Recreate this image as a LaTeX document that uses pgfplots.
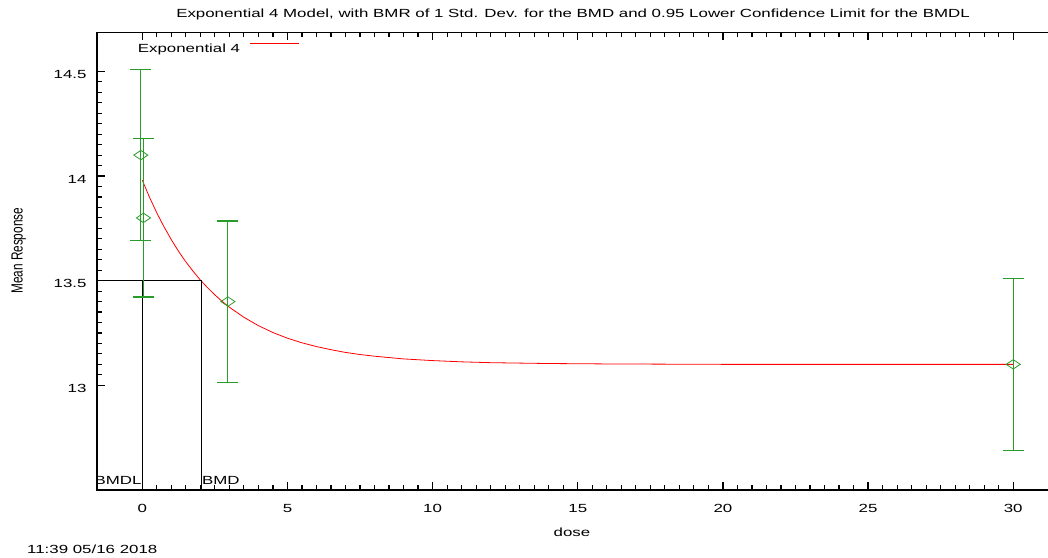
\documentclass[border=0pt]{standalone}
\usepackage{fontspec}
\setmainfont{Liberation Sans}[FakeStretch=1.43]
\newfontfamily\plainsans{Liberation Sans}
\usepackage{graphicx}
\usepackage{pgfplots}
\pgfplotsset{compat=1.18}
\definecolor{bgreen}{RGB}{40,155,40}
\newcommand\f{\fontsize{11.8}{13}\selectfont}
\pgfplotstableread{
x y e
-0.05 14.10 0.407
0.04 13.80 0.378
2.95 13.40 0.385
30 13.10 0.41
}\means
\begin{document}
\begin{tikzpicture}
\path[use as bounding box] (0pt,0pt) rectangle (1048pt,557pt);
\begin{axis}[
  at={(97pt,67.1pt)}, anchor=south west,
  width=952.5pt, height=457.4pt, scale only axis,
  xmin=-1.56, xmax=31.25, ymin=12.5, ymax=14.686,
  xtick pos=both, ytick pos=left,
  xtick={0,5,...,30}, ytick={13,13.5,14,14.5},
  minor x tick num=9, minor y tick num=9,
  tick align=inside,
  major tick length=7.5pt, minor tick length=4.5pt,
  major tick style={black, line width=1.2pt},
  minor tick style={black, line width=1.2pt},
  axis line style={line width=1.3pt},
  tick label style={font=\f},
  /pgf/number format/assume math mode=true,
  xticklabel style={yshift=-11pt},
  yticklabel style={xshift=-7pt, yshift=-3pt},
]
\addplot[red, line width=0.8pt] coordinates {
(0,13.980) (0.25,13.898) (0.5,13.824) (0.75,13.757) (1,13.696) (1.25,13.640)
(1.5,13.590) (1.75,13.545) (2,13.503) (2.25,13.466) (2.5,13.432) (2.75,13.401)
(3,13.373) (3.5,13.325) (4,13.285) (4.5,13.252) (5,13.225) (5.5,13.203)
(6,13.185) (6.5,13.170) (7,13.157) (7.5,13.147) (8,13.139) (9,13.126)
(10,13.118) (11,13.112) (12,13.108) (14,13.104) (16,13.102) (18,13.101)
(20,13.100) (25,13.100) (30,13.100)};
\addplot[black, line width=0.8pt] coordinates {(-1.56,13.5) (2.02,13.5) (2.02,12.5)};
\addplot[black, line width=0.8pt] coordinates {(0,12.5) (0,13.5)};
\addplot[color=bgreen, only marks, mark=diamond, mark size=4.7pt,
  mark options={xscale=2, solid, line width=0.8pt, draw=bgreen},
  error bars/.cd, y dir=both, y explicit,
  error bar style={draw=bgreen, color=bgreen, line width=1.1pt},
  error mark options={rotate=90, draw=bgreen, mark size=10.5pt, line width=1.1pt}]
  table[x=x, y=y, y error=e] {\means};
\node[anchor=base east, inner sep=0pt, xshift=-0.6pt, yshift=5.5pt, font=\f] at (axis cs:0,12.5) {BMDL};
\node[anchor=base west, inner sep=0pt, xshift=1pt, yshift=5.5pt, font=\f] at (axis cs:2.02,12.5) {BMD};
\end{axis}
\node[anchor=base, inner sep=0pt, font=\f] at (573pt,539.5pt) {Exponential 4 Model, with BMR of 1 Std. Dev. for the BMD and 0.95 Lower Confidence Limit for the BMDL};
\node[anchor=base, inner sep=0pt, font=\f] at (572pt,21pt) {dose};
\node[anchor=base west, inner sep=0pt, font=\f] at (27pt,3.7pt) {11:39 05/16 2018};
\node[rotate=90, inner sep=0pt] at (18.7pt,306.2pt) {\scalebox{1}[1.37]{\plainsans\f Mean Response}};
\node[anchor=base west, inner sep=0pt, font=\f] at (137.7pt,504.3pt) {Exponential 4};
\draw[red, line width=0.8pt] (250pt,513.3pt) -- (299pt,513.3pt);
\end{tikzpicture}
\end{document}
